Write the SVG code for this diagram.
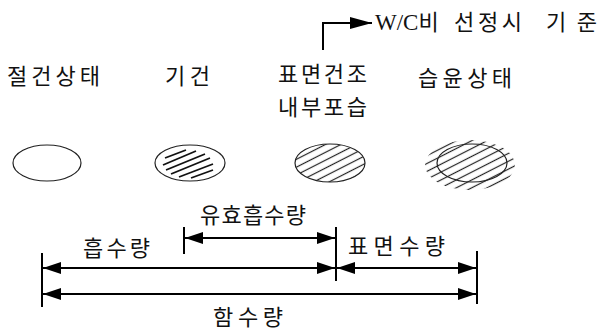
<svg xmlns="http://www.w3.org/2000/svg" width="598" height="331" viewBox="0 0 598 331">
<style>
text{font-family:"Noto Sans CJK KR","Noto Sans",sans-serif;font-size:22px;fill:#111}
.lat{font-family:"Liberation Serif","Noto Sans CJK KR",serif;font-size:23px}
.ln{stroke:#000;stroke-width:2;fill:none}
.arr{stroke:#000;stroke-width:2;fill:none;marker-start:url(#ah);marker-end:url(#ah)}
.ell{fill:#fff;stroke:#222;stroke-width:1.2}
.h{stroke:#111;stroke-width:1.8}
</style>
<defs>
<marker id="ah" viewBox="0 0 18 12" refX="18" refY="6" markerWidth="18" markerHeight="12" markerUnits="userSpaceOnUse" orient="auto-start-reverse"><path d="M0,0 L18,6 L0,12 z" fill="#000"/></marker>
<marker id="ah2" viewBox="0 0 22 12" refX="22" refY="6" markerWidth="22" markerHeight="12" markerUnits="userSpaceOnUse" orient="auto"><path d="M0,0 L22,6 L0,12 z" fill="#000"/></marker>
<pattern id="hatch" width="7" height="7" patternUnits="userSpaceOnUse" patternTransform="rotate(-27)"><line x1="0" y1="3.5" x2="7" y2="3.5" stroke="#222" stroke-width="1.2"/></pattern>
<clipPath id="c3"><ellipse cx="330" cy="163" rx="35" ry="19"/></clipPath>
<clipPath id="c4"><ellipse cx="470" cy="165" rx="45" ry="25"/></clipPath>
</defs>

<g id="note">
<polyline class="ln" points="323,50 323,23 372,23" marker-end="url(#ah2)"/>
<text x="375" y="30"><tspan class="lat">W/C</tspan>비</text>
<text x="454" y="30" textLength="68" lengthAdjust="spacing">선정시</text>
<text x="546" y="30" textLength="51" lengthAdjust="spacing">기준</text>
</g>

<g id="node-dry">
<text x="7" y="84" textLength="93" lengthAdjust="spacing">절건상태</text>
<ellipse class="ell" cx="47" cy="163" rx="34" ry="18"/>
</g>

<g id="node-airdry">
<text x="165" y="84" textLength="45" lengthAdjust="spacing">기건</text>
<ellipse class="ell" cx="190" cy="163" rx="35" ry="18"/>
<g class="h">
<line x1="165" y1="158" x2="186" y2="150"/>
<line x1="163" y1="165" x2="196" y2="151"/>
<line x1="166" y1="170" x2="205" y2="154"/>
<line x1="171" y1="174" x2="210" y2="158"/>
<line x1="179" y1="177" x2="213" y2="164"/>
<line x1="191" y1="178" x2="213" y2="170"/>
</g>
</g>

<g id="node-ssd">
<text x="278" y="82" textLength="89" lengthAdjust="spacing">표면건조</text>
<text x="278" y="115" textLength="89" lengthAdjust="spacing">내부포습</text>
<ellipse class="ell" cx="330" cy="163" rx="35" ry="19"/>
<rect x="290" y="140" width="80" height="46" fill="url(#hatch)" clip-path="url(#c3)"/>
</g>

<g id="node-wet">
<text x="418" y="86" textLength="94" lengthAdjust="spacing">습윤상태</text>
<ellipse class="ell" cx="472" cy="163" rx="35" ry="19"/>
<rect x="424" y="138" width="94" height="55" fill="url(#hatch)" clip-path="url(#c4)"/>
</g>

<g id="connectors">
<line class="ln" x1="42" y1="253" x2="42" y2="307"/>
<line class="ln" x1="184" y1="227" x2="184" y2="254"/>
<line class="ln" x1="336" y1="227" x2="336" y2="281"/>
<line class="ln" x1="477" y1="251" x2="477" y2="304"/>
<line class="arr" x1="185" y1="238" x2="335" y2="238"/>
<line class="arr" x1="43" y1="268" x2="335" y2="268"/>
<line class="arr" x1="337" y1="268" x2="476" y2="268"/>
<line class="arr" x1="43" y1="294" x2="476" y2="294"/>
</g>

<g id="labels">
<text x="200" y="223" textLength="106" lengthAdjust="spacing">유효흡수량</text>
<text x="83" y="256" textLength="67" lengthAdjust="spacing">흡수량</text>
<text x="348" y="254" textLength="97" lengthAdjust="spacing">표면수량</text>
<text x="213" y="325" textLength="70" lengthAdjust="spacing">함수량</text>
</g>
</svg>
